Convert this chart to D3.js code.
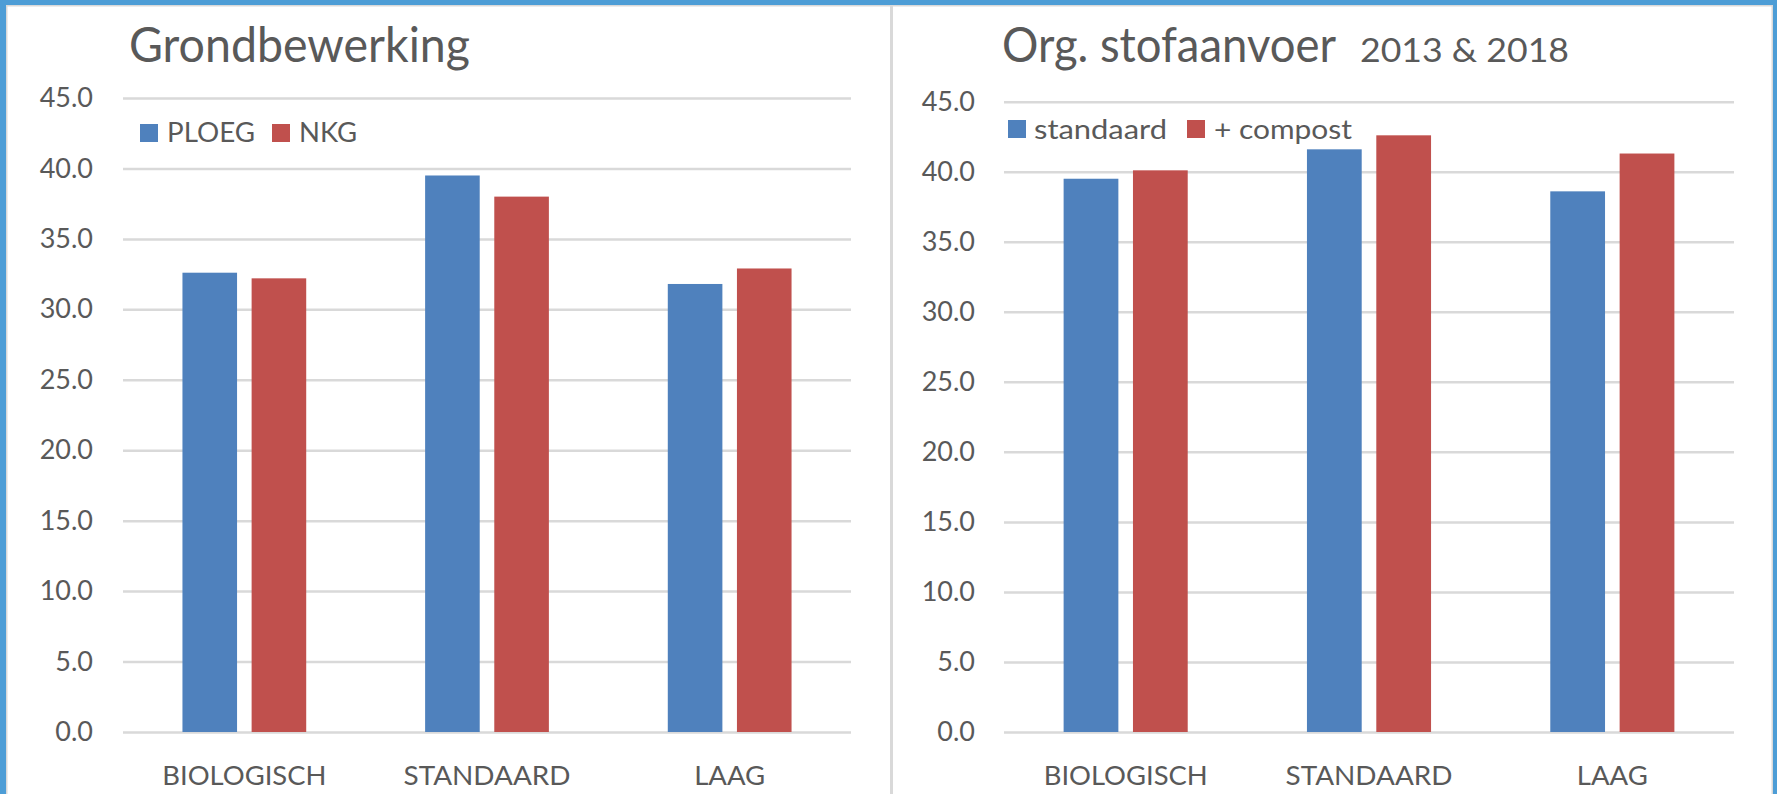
<!DOCTYPE html>
<html>
<head>
<meta charset="utf-8">
<script src="https://cdn.jsdelivr.net/npm/d3@7/dist/d3.min.js"></script>
<style>
  html, body { margin: 0; padding: 0; background: #ffffff; }
  svg { display: block; }
  text { font-family: Lato, "Open Sans", sans-serif; fill: #595959; }
</style>
</head>
<body>
<svg id="chart" width="1777" height="794"></svg>
<script>
// ---------- data ----------
const categories = ["BIOLOGISCH", "STANDAARD", "LAAG"];
const yTickValues = [0, 5, 10, 15, 20, 25, 30, 35, 40, 45];

const leftTitle = "Grondbewerking";
const leftSeriesNames = ["PLOEG", "NKG"];
const ploegValues = [32.6, 39.5, 31.8];
const nkgValues = [32.2, 38.0, 32.9];

const rightTitleMain = "Org. stofaanvoer";
const rightTitleSub = "2013 & 2018";
const rightSeriesNames = ["standaard", "+ compost"];
const standaardValues = [39.5, 41.6, 38.6];
const compostValues = [40.1, 42.6, 41.3];

const seriesColors = ["#4f81bd", "#c0504d"];

// ---------- frame ----------
const svg = d3.select("#chart");
svg.append("rect").attr("x", 0).attr("y", 0).attr("width", 1777).attr("height", 794).attr("fill", "#4d9dd6");
svg.append("rect").attr("x", 6).attr("y", 5).attr("width", 1767).attr("height", 789).attr("fill", "#d9d9d9");
svg.append("rect").attr("x", 7.5).attr("y", 6.5).attr("width", 1764).attr("height", 787.5).attr("fill", "#ffffff");
svg.append("line").attr("x1", 891.5).attr("x2", 891.5).attr("y1", 6).attr("y2", 794)
  .attr("stroke", "#d9d9d9").attr("stroke-width", 3);

// ---------- panel drawer ----------
function drawPanel(cfg) {
  const g = svg.append("g");
  const y = d3.scaleLinear().domain([0, 45]).range([cfg.yZero, cfg.yTop]);
  const x = d3.scaleBand().domain(categories).range([cfg.x0, cfg.x1]).paddingInner(0).paddingOuter(0);
  const bw = x.bandwidth();
  const barW = bw * 0.225;
  const gap = bw * 0.06;
  const sub = d3.scaleOrdinal().domain([0, 1]).range([-gap / 2 - barW, gap / 2]);

  // gridlines
  const yAxis = d3.axisLeft(y).tickValues(yTickValues).tickFormat(d3.format(".1f"))
    .tickSize(-(cfg.x1 - cfg.x0)).tickPadding(cfg.x0 - cfg.labelRight);
  const ax = g.append("g").attr("transform", `translate(${cfg.x0},0)`).call(yAxis);
  ax.select(".domain").remove();
  ax.selectAll(".tick line").attr("stroke", "#d9d9d9").attr("stroke-width", 2.5);
  ax.selectAll(".tick text").attr("font-size", 27).attr("fill", "#595959")
    .style("font-family", "Lato, 'Open Sans', sans-serif");

  // bars
  cfg.series.forEach((vals, si) => {
    g.append("g").selectAll("rect").data(vals).join("rect")
      .attr("x", (d, i) => x(categories[i]) + bw / 2 + sub(si))
      .attr("y", d => y(d))
      .attr("width", barW)
      .attr("height", d => y(0) - y(d))
      .attr("fill", seriesColors[si]);
  });

  // category labels
  const xAxis = d3.axisBottom(x).tickSize(0).tickPadding(0);
  const xa = g.append("g").attr("transform", `translate(0,${cfg.yZero})`).call(xAxis);
  xa.select(".domain").remove();
  xa.selectAll(".tick text")
    .attr("y", 785 - cfg.yZero).attr("dy", 0)
    .attr("font-size", 26.5).attr("fill", "#595959")
    .style("font-family", "Lato, 'Open Sans', sans-serif")
    .attr("textLength", (d, i) => cfg.catWidths[i])
    .attr("lengthAdjust", "spacingAndGlyphs");

  // legend
  cfg.legend.forEach((L, i) => {
    g.append("rect").attr("x", L.sx).attr("y", L.sy).attr("width", L.ss).attr("height", L.ss)
      .attr("fill", seriesColors[i]);
    g.append("text").attr("x", L.tx).attr("y", L.ty).attr("font-size", 26)
      .attr("textLength", L.tw).attr("lengthAdjust", "spacingAndGlyphs")
      .text(cfg.seriesNames[i]);
  });
}

drawPanel({
  x0: 123, x1: 851, yZero: 732, yTop: 98, labelRight: 93,
  series: [ploegValues, nkgValues],
  seriesNames: leftSeriesNames,
  catWidths: [164, 167, 71],
  legend: [
    { sx: 140, sy: 124, ss: 18, tx: 167, ty: 142, tw: 88 },
    { sx: 272, sy: 124, ss: 18, tx: 299, ty: 142, tw: 58 }
  ]
});

drawPanel({
  x0: 1004, x1: 1734, yZero: 732, yTop: 101.7, labelRight: 975,
  series: [standaardValues, compostValues],
  seriesNames: rightSeriesNames,
  catWidths: [164, 167, 71],
  legend: [
    { sx: 1008, sy: 120, ss: 18, tx: 1034, ty: 138.5, tw: 133 },
    { sx: 1187, sy: 120, ss: 18, tx: 1214, ty: 138.5, tw: 138 }
  ]
});

// titles
svg.append("text").attr("x", 129).attr("y", 62).attr("font-size", 47.5)
  .attr("textLength", 341).attr("lengthAdjust", "spacingAndGlyphs").text(leftTitle);
svg.append("text").attr("x", 1002).attr("y", 62).attr("font-size", 47.5)
  .attr("textLength", 334).attr("lengthAdjust", "spacingAndGlyphs").text(rightTitleMain);
svg.append("text").attr("x", 1360).attr("y", 62).attr("font-size", 32.5)
  .attr("textLength", 209).attr("lengthAdjust", "spacingAndGlyphs").text(rightTitleSub);
</script>
</body>
</html>
